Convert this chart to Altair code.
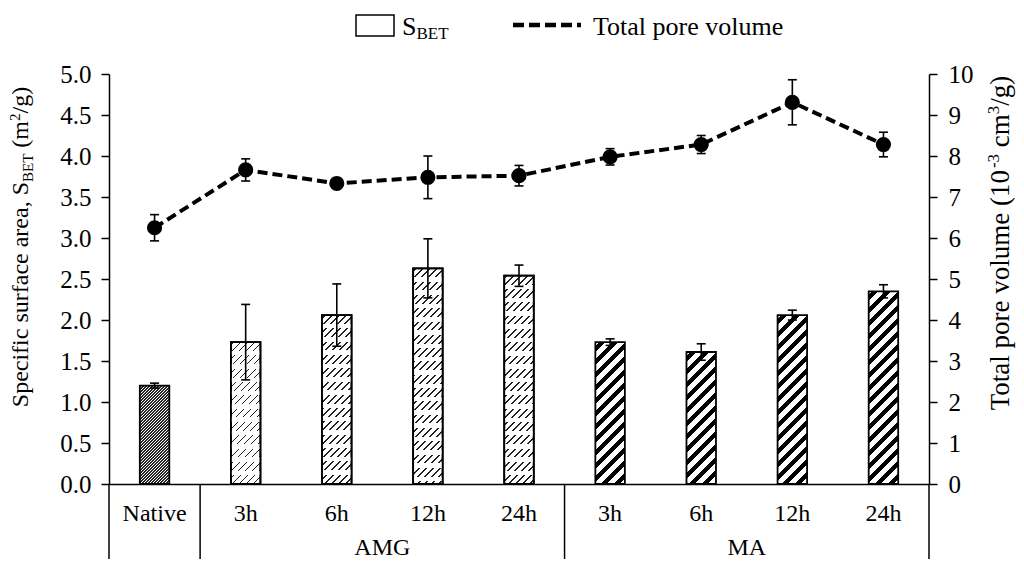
import altair as alt
import pandas as pd

# ---------------- data ----------------
ids = ["Native", "AMG 3h", "AMG 6h", "AMG 12h", "AMG 24h", "MA 3h", "MA 6h", "MA 12h", "MA 24h"]
cats = ["Native", "3h", "6h", "12h", "24h", "3h", "6h", "12h", "24h"]
groups = ["Native", "AMG", "AMG", "AMG", "AMG", "MA", "MA", "MA", "MA"]
sbet = [1.20, 1.73, 2.06, 2.63, 2.54, 1.73, 1.61, 2.06, 2.35]
sbet_err = [0.03, 0.46, 0.38, 0.36, 0.13, 0.04, 0.10, 0.06, 0.08]
tpv = [6.25, 7.66, 7.33, 7.48, 7.52, 7.98, 8.28, 9.31, 8.28]
tpv_err = [0.32, 0.27, 0.05, 0.52, 0.25, 0.20, 0.22, 0.55, 0.30]
group_labels = ["AMG", "MA"]

df = pd.DataFrame({"id": ids, "cat": cats, "grp": groups, "sbet": sbet,
                   "sbet_err": sbet_err, "tpv": tpv, "tpv_err": tpv_err})

# ---------------- layout ----------------
FONT = "Liberation Serif"
W, H = 820, 410
PAD = {"left": 101, "top": 66, "right": 87, "bottom": 75}
BAND = W / 9
BW = 29.5
YMAX_L, YMAX_R = 5.0, 10.0

# Times metrics (per 1000 em) for placing composite titles
TW = {" ": 250, "(": 333, ")": 333, ",": 250, "-": 333, "/": 278, "B": 667, "E": 611,
      "S": 556, "T": 611, "a": 444, "c": 444, "e": 444, "f": 333, "g": 500, "i": 278,
      "l": 278, "m": 778, "o": 500, "p": 500, "r": 333, "s": 389, "t": 278, "u": 500, "v": 500}


def tw(text, size):
    return sum(TW.get(ch, 500) for ch in text) * size / 1000.0


def stripes(w, h, period, on_w, on, off, phase=0.0):
    """45 degree stripes '///' as a bounding-box linear gradient."""
    L = w + h
    d = w * w + h * h
    stops = [(0.0, off)]
    pos = phase
    while pos < L:
        s, e = pos, pos + on_w
        stops += [(s, off), (s, on), (e, on), (e, off)]
        pos += period
    st = [alt.GradientStop(offset=max(0.0, min(1.0, o / L)), color=c) for o, c in stops]
    st.append(alt.GradientStop(offset=1.0, color=stops[-1][1]))
    return alt.LinearGradient(gradient="linear", x1=0, y1=0, x2=L * w / d, y2=L * h / d, stops=st)


def rows(h, period, gap, gapcol, clear):
    stops = [(0.0, clear)]
    pos = period - gap
    while pos < h:
        stops += [(pos, clear), (pos, gapcol), (pos + gap, gapcol), (pos + gap, clear)]
        pos += period
    st = [alt.GradientStop(offset=max(0.0, min(1.0, o / h)), color=c) for o, c in stops]
    st.append(alt.GradientStop(offset=1.0, color=stops[-1][1]))
    return alt.LinearGradient(gradient="linear", x1=0, y1=0, x2=0, y2=1, stops=st)


xenc = alt.X("id:N", scale=alt.Scale(domain=ids, paddingInner=0, paddingOuter=0),
             axis=alt.Axis(labels=False, ticks=False, title=None, grid=False,
                           domainColor="black", domainWidth=1.5))

left_axis = alt.Axis(title=None, orient="left", values=[i * 0.5 for i in range(11)], format=".1f",
                     labelFont=FONT, labelFontSize=25, labelColor="black", labelPadding=10,
                     tickColor="black", tickSize=8, tickWidth=1.5, domainColor="black",
                     domainWidth=1.5, grid=False)
right_axis = alt.Axis(title=None, orient="right", values=list(range(11)), format="d",
                      labelFont=FONT, labelFontSize=25, labelColor="black", labelPadding=11,
                      tickColor="black", tickSize=8, tickWidth=1.5, domainColor="black",
                      domainWidth=1.5, grid=False)
lscale = alt.Scale(domain=[0, YMAX_L], nice=False, zero=True)
rscale = alt.Scale(domain=[0, YMAX_R], nice=False, zero=True)

base = alt.Chart(df)

# ---------------- bars with hatch patterns ----------------
bar_layers = []
for i, (bid, g, v) in enumerate(zip(ids, groups, sbet)):
    h = v / YMAX_L * H
    if g == "Native":
        fill = stripes(BW, h, 3.0, 1.7, "#262626", "#ffffff")
    elif g == "AMG":
        fill = stripes(BW, h, 7.0, 1.9, "#222222", "#ffffff", phase=2.0)
    else:
        fill = stripes(BW, h, 13.0, 6.0, "#000000", "#ffffff", phase=4.0)
    bar_layers.append(
        base.transform_filter(alt.datum.id == bid)
        .mark_bar(width=BW, fill=fill, stroke="black", strokeWidth=1.8)
        .encode(x=xenc, y=alt.Y("sbet:Q", scale=lscale, axis=left_axis))
    )
    if g == "AMG":
        bar_layers.append(
            base.transform_filter(alt.datum.id == bid)
            .mark_bar(width=BW, fill=rows(h, 13.3, 4.5, "#ffffff", "rgba(255,255,255,0)"),
                      stroke="black", strokeWidth=1.8)
            .encode(x=xenc, y=alt.Y("sbet:Q", scale=lscale, axis=left_axis))
        )

err_l = base.transform_calculate(slo="datum.sbet - datum.sbet_err", shi="datum.sbet + datum.sbet_err")
sbet_rule = err_l.mark_rule(color="black", strokeWidth=1.6).encode(
    x=xenc, y=alt.Y("slo:Q", scale=lscale, axis=left_axis), y2="shi:Q")
sbet_cap_hi = err_l.mark_tick(color="black", thickness=1.6, size=9, opacity=1).encode(
    x=xenc, y=alt.Y("shi:Q", scale=lscale, axis=left_axis))
sbet_cap_lo = err_l.mark_tick(color="black", thickness=1.6, size=9, opacity=1).encode(
    x=xenc, y=alt.Y("slo:Q", scale=lscale, axis=left_axis))

cat_text = base.mark_text(font=FONT, fontSize=24, color="black", baseline="middle").encode(
    x=xenc, y=alt.value(440), text="cat:N")

left = alt.layer(*bar_layers, sbet_rule, sbet_cap_hi, sbet_cap_lo, cat_text)

# ---------------- total pore volume line ----------------
err_r = base.transform_calculate(tlo="datum.tpv - datum.tpv_err", thi="datum.tpv + datum.tpv_err")
tpv_rule = err_r.mark_rule(color="black", strokeWidth=1.6).encode(
    x=xenc, y=alt.Y("tlo:Q", scale=rscale, axis=right_axis), y2="thi:Q")
tpv_cap_hi = err_r.mark_tick(color="black", thickness=1.6, size=9, opacity=1).encode(
    x=xenc, y=alt.Y("thi:Q", scale=rscale, axis=right_axis))
tpv_cap_lo = err_r.mark_tick(color="black", thickness=1.6, size=9, opacity=1).encode(
    x=xenc, y=alt.Y("tlo:Q", scale=rscale, axis=right_axis))
tpv_line = base.mark_line(color="black", strokeWidth=4, strokeDash=[10, 5]).encode(
    x=xenc, y=alt.Y("tpv:Q", scale=rscale, axis=right_axis))
tpv_pts = base.mark_point(filled=True, size=230, color="black", opacity=1).encode(
    x=xenc, y=alt.Y("tpv:Q", scale=rscale, axis=right_axis))

right = alt.layer(tpv_line, tpv_rule, tpv_cap_hi, tpv_cap_lo, tpv_pts)

# ---------------- decorations: dividers, group labels, titles, legend ----------------
one = pd.DataFrame({"k": [0]})
dec = []
for xb in [0, BAND, 5 * BAND, W]:
    dec.append(alt.Chart(one).mark_rule(color="black", strokeWidth=1.5).encode(
        x=alt.value(xb), y=alt.value(H), y2=alt.value(H + 90)))
for lab, xc in zip(group_labels, [3 * BAND, 7 * BAND]):
    dec.append(alt.Chart(one).mark_text(text=lab, font=FONT, fontSize=24, color="black",
                                        baseline="alphabetic").encode(x=alt.value(xc), y=alt.value(481)))


def vtitle(pieces, xbase, ycenter):
    """pieces: (text, fontsize, baseline shift, space before in px)"""
    total = sum(tw(t, s) + gap for t, s, _, gap in pieces)
    y = ycenter + total / 2
    out = []
    for t, s, dx, gap in pieces:
        y -= gap
        out.append(alt.Chart(one).mark_text(text=t, font=FONT, fontSize=s, color="black", angle=270,
                                            align="left", baseline="alphabetic")
                   .encode(x=alt.value(xbase + dx), y=alt.value(y)))
        y -= tw(t, s)
    return out


FT, FS = 24, 15
sp = tw(" ", FT)
dec += vtitle([("Specific surface area, S", FT, 0, 0), ("BET", FS, 5, 0), ("(m", FT, 0, sp),
               ("2", FS, -8, 0), ("/g)", FT, 0, 0)], -81, 173)
FR, FRS = 27, 17
spr = tw(" ", FR)
dec += vtitle([("Total pore volume (10", FR, 0, 0), ("-3", FRS, -10, 0), ("cm", FR, 0, spr),
               ("3", FRS, -10, 0), ("/g)", FR, 0, 0)], 900, 169)

# legend
dec.append(alt.Chart(one).mark_rect(fill="white", stroke="black", strokeWidth=1.5).encode(
    x=alt.value(247), x2=alt.value(285), y=alt.value(-59), y2=alt.value(-38)))
dec.append(alt.Chart(one).mark_text(text="S", font=FONT, fontSize=26, color="black", align="left",
                                    baseline="alphabetic").encode(x=alt.value(293), y=alt.value(-39)))
dec.append(alt.Chart(one).mark_text(text="BET", font=FONT, fontSize=17, color="black", align="left",
                                    baseline="alphabetic").encode(x=alt.value(293 + tw("S", 26)),
                                                                   y=alt.value(-35)))
dec.append(alt.Chart(one).mark_rule(color="black", strokeWidth=4.5, strokeDash=[11, 5]).encode(
    x=alt.value(404), x2=alt.value(472), y=alt.value(-49)))
dec.append(alt.Chart(one).mark_text(text="Total pore volume", font=FONT, fontSize=26, color="black",
                                    align="left", baseline="alphabetic").encode(
    x=alt.value(484), y=alt.value(-39)))

decor = alt.layer(*dec)

chart = (
    alt.layer(left, right, decor)
    .resolve_scale(y="independent")
    .properties(width=W, height=H, padding=PAD, autosize=alt.AutoSizeParams(type="none"),
                background="white")
    .configure_view(stroke=None)
)

chart.save("out.html", embed_options={"renderer": "svg", "actions": False})
